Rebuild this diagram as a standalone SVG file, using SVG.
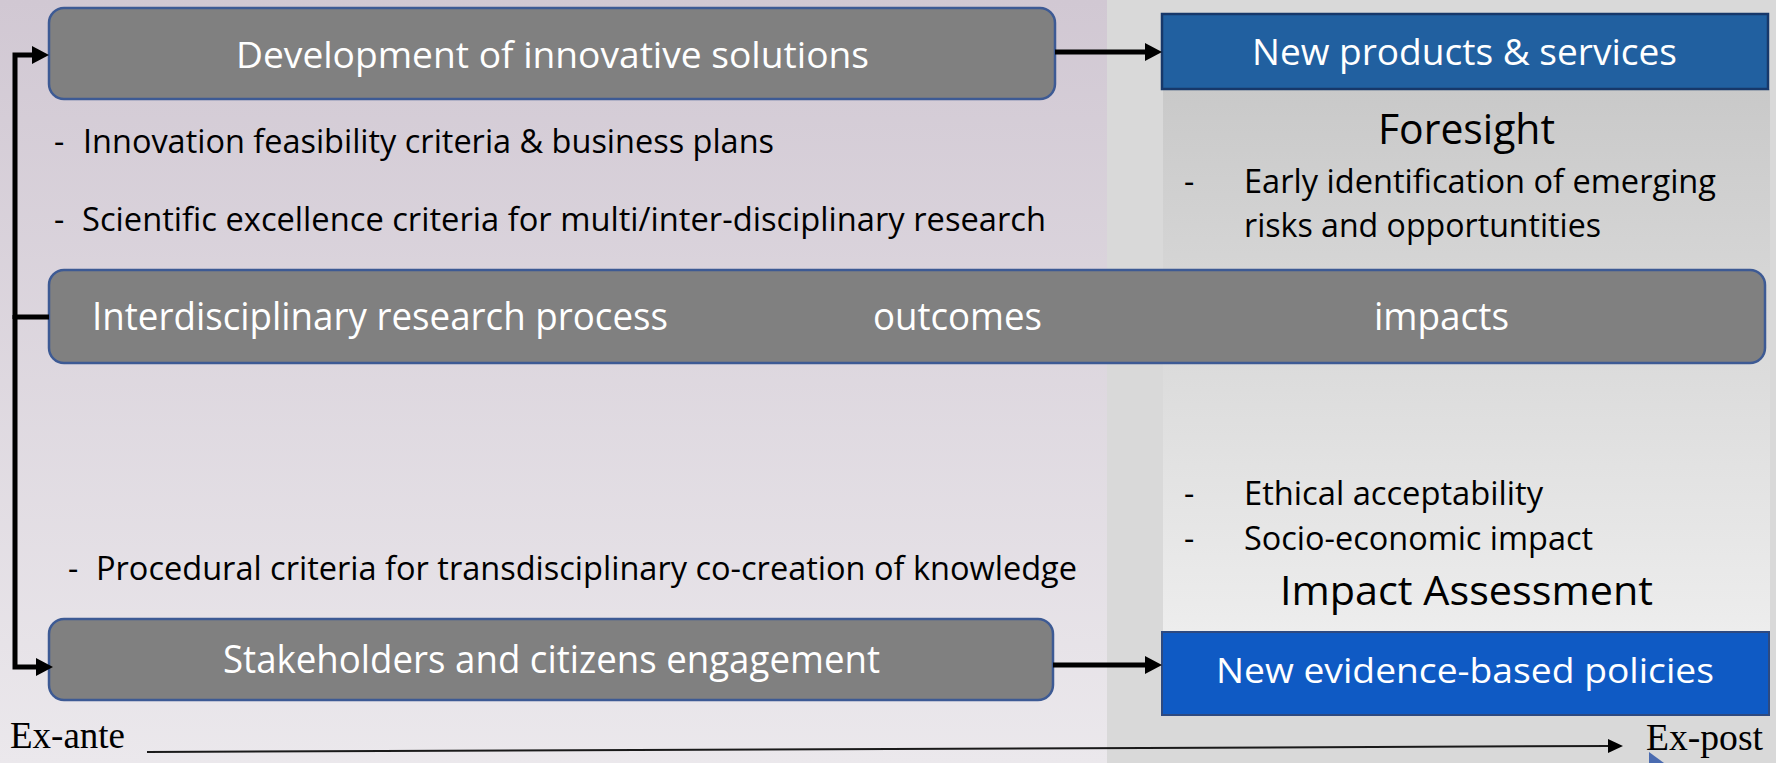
<svg xmlns="http://www.w3.org/2000/svg" width="1776" height="763" viewBox="0 0 1776 763">
<defs>
<linearGradient id="lilac" x1="0" y1="0" x2="0" y2="1">
<stop offset="0" stop-color="#d1c8d3"/>
<stop offset="1" stop-color="#ebe8ec"/>
</linearGradient>
<linearGradient id="panel" x1="0" y1="0" x2="0" y2="1">
<stop offset="0" stop-color="#c9c9c9"/>
<stop offset="1" stop-color="#ededed"/>
</linearGradient>
<marker id="ah" markerUnits="userSpaceOnUse" markerWidth="18" markerHeight="18" refX="2" refY="9" orient="auto">
<path d="M0,0 L17,9 L0,18 z" fill="#000"/>
</marker>
<marker id="ah2" markerUnits="userSpaceOnUse" markerWidth="16" markerHeight="16" refX="2" refY="7" orient="auto">
<path d="M0,0 L15,7 L0,14 z" fill="#000"/>
</marker>
<style>
.box{fill:#808080;stroke:#3d5a94;stroke-width:2.5}
.wt{font-family:"Open Sans","Noto Sans",sans-serif;fill:#fff}
.bt{font-family:"Open Sans","Noto Sans",sans-serif;fill:#000}
.tm{font-family:"Liberation Serif","Times New Roman",serif;fill:#000;font-size:37px}
.con{fill:none;stroke:#000;stroke-width:5}
</style>
</defs>

<!-- backgrounds -->
<rect x="0" y="0" width="1107" height="763" fill="url(#lilac)"/>
<rect x="1107" y="0" width="669" height="763" fill="#d9d9d9"/>
<rect x="1163" y="89" width="607" height="543" fill="url(#panel)"/>

<g id="node-dev">
<rect class="box" x="49" y="8" width="1006" height="91" rx="15"/>
<text class="wt" x="236" y="68" font-size="36" textLength="633" lengthAdjust="spacingAndGlyphs">Development of innovative solutions</text>
</g>

<g id="node-products">
<rect x="1162" y="14" width="606" height="75" fill="#2160a0" stroke="#17386a" stroke-width="2.5"/>
<text class="wt" x="1252" y="65" font-size="36" textLength="425" lengthAdjust="spacingAndGlyphs">New products &amp; services</text>
</g>

<g id="foresight">
<text class="bt" x="1378" y="144" font-size="42" textLength="177" lengthAdjust="spacingAndGlyphs">Foresight</text>
<text class="bt" x="1184" y="193" font-size="32">-</text>
<text class="bt" x="1244" y="193" font-size="32" textLength="472" lengthAdjust="spacingAndGlyphs">Early identification of emerging</text>
<text class="bt" x="1244" y="237" font-size="32" textLength="357" lengthAdjust="spacingAndGlyphs">risks and opportuntities</text>
</g>

<g id="criteria-top">
<text class="bt" font-size="32" y="153"><tspan x="54">-</tspan><tspan x="83" textLength="691" lengthAdjust="spacingAndGlyphs">Innovation feasibility criteria &amp; business plans</tspan></text>
<text class="bt" font-size="32" y="231"><tspan x="54">-</tspan><tspan x="82" textLength="964" lengthAdjust="spacingAndGlyphs">Scientific excellence criteria for multi/inter-disciplinary research</tspan></text>
</g>

<g id="node-process">
<rect class="box" x="49" y="270" width="1716" height="93" rx="15"/>
<text class="wt" x="92" y="330" font-size="38" textLength="576" lengthAdjust="spacingAndGlyphs">Interdisciplinary research process</text>
<text class="wt" x="873" y="330" font-size="38" textLength="169" lengthAdjust="spacingAndGlyphs">outcomes</text>
<text class="wt" x="1374" y="330" font-size="38" textLength="135" lengthAdjust="spacingAndGlyphs">impacts</text>
</g>

<g id="impact-assessment">
<text class="bt" x="1184" y="505" font-size="32">-</text>
<text class="bt" x="1244" y="505" font-size="32" textLength="299" lengthAdjust="spacingAndGlyphs">Ethical acceptability</text>
<text class="bt" x="1184" y="550" font-size="32">-</text>
<text class="bt" x="1244" y="550" font-size="32" textLength="349" lengthAdjust="spacingAndGlyphs">Socio-economic impact</text>
<text class="bt" x="1280" y="605" font-size="40" textLength="373" lengthAdjust="spacingAndGlyphs">Impact Assessment</text>
</g>

<g id="criteria-bottom">
<text class="bt" font-size="32" y="580"><tspan x="68">-</tspan><tspan x="96" textLength="981" lengthAdjust="spacingAndGlyphs">Procedural criteria for transdisciplinary co-creation of knowledge</tspan></text>
</g>

<g id="node-stakeholders">
<rect class="box" x="49" y="619" width="1004" height="81" rx="15"/>
<text class="wt" x="223" y="673" font-size="38" textLength="657" lengthAdjust="spacingAndGlyphs">Stakeholders and citizens engagement</text>
</g>

<g id="node-policies">
<rect x="1162" y="632" width="607" height="83" fill="#0f5ac4" stroke="#2e4a80" stroke-width="2"/>
<text class="wt" x="1216" y="683" font-size="35" textLength="498" lengthAdjust="spacingAndGlyphs">New evidence-based policies</text>
</g>

<g id="connectors">
<path class="con" d="M49,317 H15"/>
<path class="con" d="M15,319 V55 H34" marker-end="url(#ah)"/>
<path class="con" d="M15,315 V667 H38" marker-end="url(#ah)"/>
<path class="con" d="M1055,52 H1147" marker-end="url(#ah)"/>
<path class="con" d="M1053,665 H1147" marker-end="url(#ah)"/>
<path d="M147,752 L1610,746" fill="none" stroke="#1a1a1a" stroke-width="2" marker-end="url(#ah2)"/>
</g>

<g id="timeline-labels">
<text class="tm" x="10" y="748" textLength="115" lengthAdjust="spacingAndGlyphs">Ex-ante</text>
<text class="tm" x="1646" y="750" textLength="117" lengthAdjust="spacingAndGlyphs">Ex-post</text>
<polygon points="1649,752 1649,763 1664,763" fill="#4a6bb0"/>
</g>
</svg>
